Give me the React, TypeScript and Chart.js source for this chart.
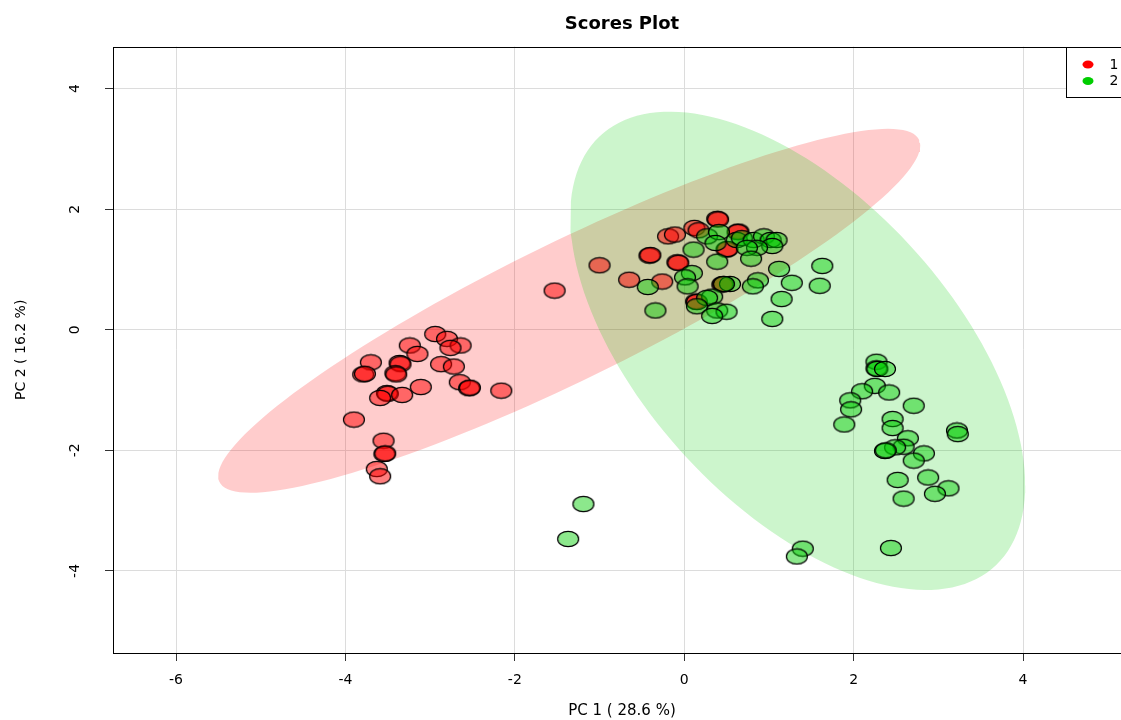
import React, { useEffect, useRef } from "react";
import { Chart, registerables } from "chart.js";

Chart.register(...registerables);

const FONT = "'DejaVu Sans', 'Liberation Sans', sans-serif";

const groupLabels = ["1", "2"];
const pointFills = ["rgba(255,0,0,0.5)", "rgba(0,205,0,0.45)"];
const ellipseFills = ["rgba(255,0,0,0.2)", "rgba(0,205,0,0.2)"];
const legendDotColors = ["#ff0000", "#00cd00"];

const group1X = [
  -2.94, -2.8, -2.64, -2.76, -3.24, -3.15, -3.7, -3.36, -3.35, -3.79, -3.77, -3.41, -3.4,
  -2.87, -2.72, -2.65, -2.54, -2.53, -2.16, -3.11, -3.51, -3.5, -3.33, -3.59, -3.9, -3.55,
  -3.54, -3.53, -3.63, -3.59, -1.53, -1.0, -0.65, -0.26, -0.41, -0.4, -0.08, -0.07, -0.19,
  -0.11, 0.12, 0.17, 0.39, 0.4, 0.64, 0.63, 0.5, 0.51, 0.45, 0.46, 0.14, 0.15,
];
const group1Y = [
  -0.07, -0.15, -0.26, -0.3, -0.26, -0.4, -0.54, -0.55, -0.57, -0.74, -0.73, -0.72, -0.74,
  -0.57, -0.61, -0.87, -0.97, -0.96, -1.01, -0.95, -1.05, -1.06, -1.08, -1.13, -1.49, -1.84,
  -2.06, -2.05, -2.31, -2.43, 0.65, 1.07, 0.83, 0.8, 1.23, 1.24, 1.12, 1.11, 1.55,
  1.58, 1.69, 1.65, 1.84, 1.83, 1.63, 1.62, 1.33, 1.34, 0.75, 0.76, 0.47, 0.46,
];

const group2X = [
  0.27, 0.41, 0.37, 0.62, 0.68, 0.82, 0.94, 1.02, 1.09, 1.04, 0.86, 0.74, 0.79, 0.11, 0.39,
  1.12, 1.63, 1.6, 1.27, 1.15, 1.04, 0.87, 0.81, 0.09, 0.01, 0.04, -0.43, -0.34, 0.54, 0.47,
  0.33, 0.27, 0.15, 0.39, 0.5, 0.33,
  2.27, 2.27, 2.28, 2.37, 2.25, 2.1, 2.42, 2.71, 1.96, 1.97, 1.89, 2.46, 2.46, 3.22, 3.23,
  2.64, 2.59, 2.49, 2.37, 2.38, 2.83, 2.71, 2.52, 2.88, 3.12, 2.96, 2.59, 2.44,
  -1.19, -1.37, 1.4, 1.33,
];
const group2Y = [
  1.55, 1.62, 1.44, 1.49, 1.52, 1.49, 1.55, 1.49, 1.49, 1.39, 1.36, 1.36, 1.18, 1.33, 1.13,
  1.01, 1.06, 0.73, 0.78, 0.51, 0.18, 0.82, 0.72, 0.94, 0.87, 0.72, 0.71, 0.32, 0.76, 0.76,
  0.55, 0.53, 0.39, 0.32, 0.3, 0.23,
  -0.53, -0.64, -0.65, -0.65, -0.93, -1.02, -1.04, -1.26, -1.17, -1.32, -1.57, -1.48, -1.63,
  -1.67, -1.73, -1.8, -1.94, -1.95, -2.01, -2.0, -2.05, -2.17, -2.49, -2.45, -2.63, -2.72,
  -2.8, -3.62,
  -2.89, -3.47, -3.63, -3.76,
];

// 95% confidence ellipses: centre and covariance terms per group
const ellipseCenterX = [-1.358, 1.34];
const ellipseCenterY = [0.315, -0.349];
const ellipseVarX = [17.18, 7.215];
const ellipseVarY = [9.11, 15.74];
const ellipseCovXY = [11.36, -6.0];

const xTicks = [-6, -4, -2, 0, 2, 4];
const yTicks = [-4, -2, 0, 2, 4];
const xRange = [-6.744, 5.275];
const yRange = [-5.361, 4.697];

function ellipsePolygon(i: number) {
  const a = Math.sqrt(ellipseVarX[i]);
  const b = ellipseCovXY[i] / a;
  const c = Math.sqrt(ellipseVarY[i] - b * b);
  const pts: { x: number; y: number }[] = [];
  const n = 160;
  for (let k = 0; k <= n; k++) {
    const t = (k / n) * Math.PI * 2;
    pts.push({
      x: ellipseCenterX[i] + a * Math.cos(t),
      y: ellipseCenterY[i] + b * Math.cos(t) + c * Math.sin(t),
    });
  }
  return pts;
}

function makePointImage(fill: string) {
  const cv = document.createElement("canvas");
  cv.width = 24;
  cv.height = 18;
  const g = cv.getContext("2d")!;
  g.beginPath();
  g.ellipse(12, 9, 10.5, 7.7, 0, 0, Math.PI * 2);
  g.fillStyle = fill;
  g.fill();
  g.lineWidth = 1.2;
  g.strokeStyle = "#000";
  g.stroke();
  return cv;
}

const framePlugin = {
  id: "frameAndLegend",
  afterDraw(chart: any) {
    const { ctx, chartArea } = chart;
    ctx.save();
    ctx.strokeStyle = "#000";
    ctx.lineWidth = 1;
    ctx.strokeRect(
      Math.round(chartArea.left) + 0.5,
      Math.round(chartArea.top) + 0.5,
      Math.round(chartArea.right - chartArea.left),
      Math.round(chartArea.bottom - chartArea.top)
    );
    // legend box (top-right inside plot)
    const bw = 65;
    const bh = 50;
    const bx = Math.round(chartArea.right - bw) + 0.5;
    const by = Math.round(chartArea.top) + 0.5;
    ctx.fillStyle = "#fff";
    ctx.fillRect(bx, by, bw, bh);
    ctx.strokeRect(bx, by, bw, bh);
    ctx.font = `14px ${FONT}`;
    ctx.textBaseline = "middle";
    ctx.textAlign = "left";
    groupLabels.forEach((lab, i) => {
      const cy = by + 17 + i * 16.5;
      ctx.beginPath();
      ctx.ellipse(bx + 21.5, cy, 5.5, 4, 0, 0, Math.PI * 2);
      ctx.fillStyle = legendDotColors[i];
      ctx.fill();
      ctx.fillStyle = "#000";
      ctx.fillText(lab, bx + 43, cy + 0.5);
    });
    ctx.restore();
  },
};

export default function App() {
  const ref = useRef<HTMLCanvasElement | null>(null);

  useEffect(() => {
    if (!ref.current) return;
    const img1 = makePointImage(pointFills[0]);
    const img2 = makePointImage(pointFills[1]);
    const pts1 = group1X.map((x, i) => ({ x, y: group1Y[i] }));
    const pts2 = group2X.map((x, i) => ({ x, y: group2Y[i] }));

    const chart = new Chart(ref.current, {
      type: "scatter",
      data: {
        datasets: [
          {
            type: "line",
            label: "ellipse " + groupLabels[0],
            data: ellipsePolygon(0),
            backgroundColor: ellipseFills[0],
            borderWidth: 0,
            borderColor: "rgba(0,0,0,0)",
            pointRadius: 0,
            fill: "shape",
            tension: 0,
            order: 4,
          } as any,
          {
            type: "line",
            label: "ellipse " + groupLabels[1],
            data: ellipsePolygon(1),
            backgroundColor: ellipseFills[1],
            borderWidth: 0,
            borderColor: "rgba(0,0,0,0)",
            pointRadius: 0,
            fill: "shape",
            tension: 0,
            order: 3,
          } as any,
          {
            label: groupLabels[0],
            data: pts1,
            pointStyle: img1 as any,
            pointRadius: 9,
            order: 2,
          },
          {
            label: groupLabels[1],
            data: pts2,
            pointStyle: img2 as any,
            pointRadius: 9,
            order: 1,
          },
        ],
      },
      options: {
        responsive: false,
        animation: false,
        events: [],
        layout: { padding: { left: 0, right: 29, top: 0, bottom: 0 } },
        plugins: {
          legend: { display: false },
          tooltip: { enabled: false },
          title: {
            display: true,
            text: "Scores Plot",
            fullSize: false,
            color: "#000",
            font: { family: FONT, size: 18, weight: "bold" },
            padding: { top: 14, bottom: 11 },
          },
        },
        scales: {
          x: {
            type: "linear",
            min: xRange[0],
            max: xRange[1],
            afterBuildTicks: (s: any) => {
              s.ticks = xTicks.map((v) => ({ value: v }));
            },
            afterFit: (s: any) => {
              s.height = 67;
            },
            grid: { color: "#dcdcdc", tickColor: "#333", tickLength: 8, drawTicks: true, lineWidth: 1 },
            border: { display: false },
            ticks: {
              color: "#000",
              font: { family: FONT, size: 14 },
              padding: 11,
              minRotation: 0,
              maxRotation: 0,
              callback: (v: any) => String(v),
            },
            title: {
              display: true,
              text: "PC 1 ( 28.6 %)",
              color: "#000",
              font: { family: FONT, size: 15 },
              padding: { top: 0, bottom: 0 },
            },
          },
          y: {
            type: "linear",
            min: yRange[0],
            max: yRange[1],
            afterBuildTicks: (s: any) => {
              s.ticks = yTicks.map((v) => ({ value: v }));
            },
            afterFit: (s: any) => {
              s.width = 113;
            },
            grid: { color: "#dcdcdc", tickColor: "#333", tickLength: 8, drawTicks: true, lineWidth: 1 },
            border: { display: false },
            ticks: {
              color: "#000",
              font: { family: FONT, size: 14 },
              padding: 23,
              minRotation: 90,
              maxRotation: 90,
              crossAlign: "center",
              callback: (v: any) => String(v),
            },
            title: {
              display: true,
              text: "PC 2 ( 16.2 %)",
              color: "#000",
              font: { family: FONT, size: 14 },
              padding: { top: 13, bottom: 0 },
            },
          },
        },
      } as any,
      plugins: [framePlugin],
    });
    return () => chart.destroy();
  }, []);

  return (
    <div
      style={{
        position: "fixed",
        left: 0,
        top: 0,
        width: 1121,
        height: 720,
        overflow: "hidden",
        background: "#fff",
      }}
    >
      <canvas ref={ref} width={1160} height={720} style={{ display: "block" }} />
    </div>
  );
}
